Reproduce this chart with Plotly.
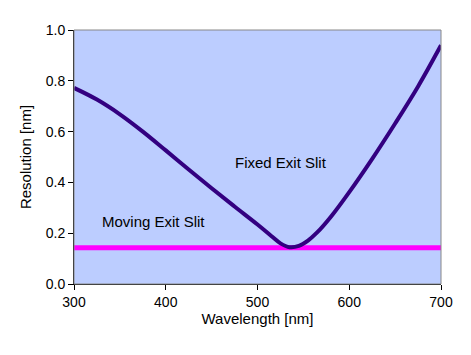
import plotly.graph_objects as go

wavelength = [300, 325, 350, 375, 400, 425, 450, 475, 500, 515, 525, 535, 545, 555, 565, 580, 600, 625, 650, 675, 700]
fixed_slit = [0.772, 0.726, 0.668, 0.600, 0.526, 0.451, 0.377, 0.305, 0.234, 0.189, 0.160, 0.145, 0.150, 0.171, 0.203, 0.265, 0.362, 0.493, 0.632, 0.778, 0.940]
moving_slit_x = [300, 700]
moving_slit = [0.143, 0.143]

fig = go.Figure()
fig.add_trace(go.Scatter(x=moving_slit_x, y=moving_slit, mode="lines",
                         line=dict(color="#FF00FF", width=5), showlegend=False))
fig.add_trace(go.Scatter(x=wavelength, y=fixed_slit, mode="lines",
                         line=dict(color="#330080", width=4, shape="spline", smoothing=1.0),
                         showlegend=False))

fig.add_annotation(x=525.6, y=0.48, text="Fixed Exit Slit", showarrow=False,
                   font=dict(family="Liberation Sans, Arial", size=15, color="#000000"))
fig.add_annotation(x=387, y=0.248, text="Moving Exit Slit", showarrow=False,
                   font=dict(family="Liberation Sans, Arial", size=15, color="#000000"))

fig.update_layout(
    width=463, height=347,
    margin=dict(l=66, r=30, t=22, b=71),
    paper_bgcolor="#FFFFFF",
    plot_bgcolor="#BCCDFF",
    font=dict(family="Liberation Sans, Arial", size=14, color="#000000"),
    shapes=[dict(type="rect", xref="paper", yref="paper", x0=0, y0=0, x1=1, y1=1,
                 line=dict(color="#888888", width=1), layer="above")],
)
fig.update_xaxes(range=[300, 700], tickvals=[300, 400, 500, 600, 700],
                 showgrid=False, zeroline=False, showline=True, linecolor="#000000",
                 linewidth=1, ticks="outside", ticklen=5, tickcolor="#000000",
                 tickfont=dict(size=14),
                 title=dict(text="Wavelength [nm]", standoff=3, font=dict(size=15)))
fig.update_yaxes(range=[0, 1.0], tickvals=[0, 0.2, 0.4, 0.6, 0.8, 1.0],
                 tickformat=".1f",
                 showgrid=False, zeroline=False, showline=True, linecolor="#000000",
                 linewidth=1, ticks="outside", ticklen=5, tickcolor="#000000",
                 tickfont=dict(size=14),
                 title=dict(text="Resolution [nm]", standoff=10, font=dict(size=15)))

fig.write_html("out.html")
